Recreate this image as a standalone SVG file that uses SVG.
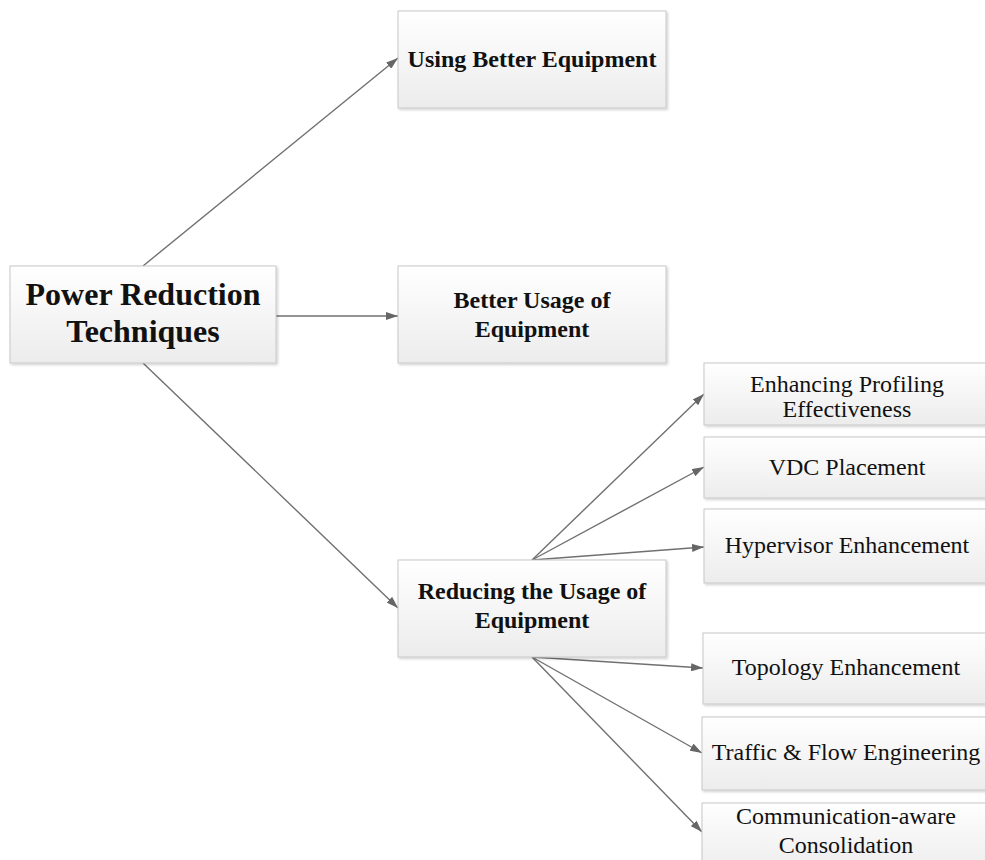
<svg xmlns="http://www.w3.org/2000/svg" width="985" height="860" viewBox="0 0 985 860">
<defs>
<linearGradient id="g" x1="0" y1="0" x2="0" y2="1">
<stop offset="0" stop-color="#ffffff"/>
<stop offset="1" stop-color="#ececec"/>
</linearGradient>
<filter id="sh" x="-5%" y="-5%" width="115%" height="120%">
<feDropShadow dx="1.5" dy="1.5" stdDeviation="1" flood-color="#000" flood-opacity="0.18"/>
</filter>
<marker id="ah" viewBox="0 0 12 8" refX="12" refY="4" markerWidth="12" markerHeight="8" markerUnits="userSpaceOnUse" orient="auto">
<path d="M0,0 L12,4 L0,8 Z" fill="#666"/>
</marker>
</defs>
<style>
rect.box{fill:url(#g);stroke:#c8c8c8;stroke-width:1;filter:url(#sh)}
text{font-family:"Liberation Serif","Times New Roman",serif;fill:#111;text-anchor:middle}
.b{font-weight:bold}
.c line{stroke:#707070;stroke-width:1.4;marker-end:url(#ah)}
</style>
<rect width="985" height="860" fill="#fff"/>
<g class="c" id="connectors">
<line x1="143" y1="266" x2="398" y2="58"/>
<line x1="276" y1="316" x2="398" y2="316"/>
<line x1="143" y1="363" x2="398" y2="608"/>
<line x1="532" y1="560" x2="704" y2="394"/>
<line x1="532" y1="560" x2="704" y2="467"/>
<line x1="532" y1="560" x2="704" y2="547"/>
<line x1="532" y1="657" x2="703" y2="668"/>
<line x1="532" y1="657" x2="702" y2="753"/>
<line x1="532" y1="657" x2="702" y2="832"/>
</g>
<g id="root"><rect class="box" x="10" y="266" width="266" height="97"/>
<text class="b" x="143" y="305" font-size="32">Power Reduction</text>
<text class="b" x="143" y="342" font-size="32">Techniques</text></g>
<g id="n1"><rect class="box" x="398" y="11" width="268" height="97"/>
<text class="b" x="532" y="67" font-size="24">Using Better Equipment</text></g>
<g id="n2"><rect class="box" x="398" y="266" width="268" height="97"/>
<text class="b" x="532" y="308" font-size="24">Better Usage of</text>
<text class="b" x="532" y="337" font-size="24">Equipment</text></g>
<g id="n3"><rect class="box" x="398" y="560" width="268" height="97"/>
<text class="b" x="532" y="599" font-size="24">Reducing the Usage of</text>
<text class="b" x="532" y="628" font-size="24">Equipment</text></g>
<g id="r1"><rect class="box" x="704" y="363" width="286" height="62"/>
<text x="847" y="392" font-size="24">Enhancing Profiling</text>
<text x="847" y="417" font-size="24">Effectiveness</text></g>
<g id="r2"><rect class="box" x="704" y="437" width="286" height="61"/>
<text x="847" y="475" font-size="24">VDC Placement</text></g>
<g id="r3"><rect class="box" x="704" y="509" width="286" height="74"/>
<text x="847" y="553" font-size="24">Hypervisor Enhancement</text></g>
<g id="r4"><rect class="box" x="703" y="633" width="286" height="71"/>
<text x="846" y="675" font-size="24">Topology Enhancement</text></g>
<g id="r5"><rect class="box" x="702" y="717" width="286" height="73"/>
<text x="846" y="760" font-size="24">Traffic &amp; Flow Engineering</text></g>
<g id="r6"><rect class="box" x="702" y="803" width="286" height="70"/>
<text x="846" y="824" font-size="24">Communication-aware</text>
<text x="846" y="853" font-size="24">Consolidation</text></g>
</svg>
